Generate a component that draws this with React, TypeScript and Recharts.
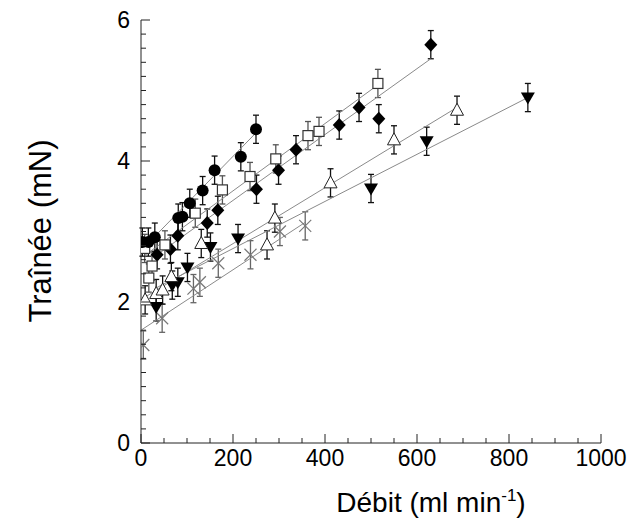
import React from 'react';
import { ComposedChart, XAxis, YAxis, Scatter, ErrorBar } from 'recharts';

// ---------- data ----------
const circleX = [3, 16, 30, 81, 90, 106, 134, 160, 217, 250];
const circleY = [2.85, 2.85, 2.92, 3.19, 3.21, 3.4, 3.58, 3.87, 4.06, 4.45];

const squareX = [8, 17, 24, 52, 118, 177, 237, 293, 363, 387, 515];
const squareY = [2.76, 2.34, 2.51, 2.81, 3.26, 3.59, 3.78, 4.03, 4.36, 4.42, 5.1];

const diamondX = [35, 64, 80, 144, 167, 251, 299, 337, 431, 474, 517, 630];
const diamondY = [2.67, 2.75, 2.94, 3.12, 3.3, 3.6, 3.87, 4.16, 4.51, 4.76, 4.6, 5.65];

const triUpX = [9, 33, 47, 66, 131, 274, 291, 412, 550, 687];
const triUpY = [2.03, 2.12, 2.17, 2.36, 2.83, 2.81, 3.19, 3.69, 4.3, 4.72];

const triDownX = [33, 68, 80, 101, 151, 211, 500, 621, 841];
const triDownY = [1.93, 2.24, 2.28, 2.49, 2.78, 2.9, 3.61, 4.28, 4.9];

const crossX = [5, 46, 114, 128, 168, 238, 302, 357];
const crossY = [1.39, 1.77, 2.19, 2.28, 2.55, 2.67, 3.0, 3.08];

const errBar = 0.2;

// fitted lines (end points)
const circleFitX = [3, 250];
const circleFitY = [2.75, 4.4];
const squareFitX = [8, 515];
const squareFitY = [2.66, 5.08];
const diamondFitX = [35, 630];
const diamondFitY = [2.67, 5.45];
const triUpFitX = [9, 687];
const triUpFitY = [2.07, 4.76];
const triDownFitX = [30, 841];
const triDownFitY = [2.19, 4.9];
const crossFitX = [0, 357];
const crossFitY = [1.6, 3.13];

const xTicks = [0, 50, 100, 150, 200, 250, 300, 350, 400, 450, 500, 550, 600, 650, 700, 750, 800, 850, 900, 950, 1000];
const xMajor = [0, 200, 400, 600, 800, 1000];
const yTicks = [0, 0.2, 0.4, 0.6, 0.8, 1, 1.2, 1.4, 1.6, 1.8, 2, 2.2, 2.4, 2.6, 2.8, 3, 3.2, 3.4, 3.6, 3.8, 4, 4.2, 4.4, 4.6, 4.8, 5, 5.2, 5.4, 5.6, 5.8, 6];
const yMajor = [0, 2, 4, 6];

const xTitle = 'Débit (ml min';
const xTitleSup = '-1';
const yTitle = 'Traînée (mN)';

// ---------- helpers ----------
const zip = (xs: number[], ys: number[]) => xs.map((x, i) => ({ x, y: ys[i], e: errBar }));
const isMajor = (v: number, list: number[]) => list.some((m) => Math.abs(m - v) < 1e-6);

const FONT = '"Liberation Sans", Arial, Helvetica, sans-serif';
const FRAME = '#222';

const BottomTick = (p: any) => {
  const major = isMajor(p.payload.value, xMajor);
  return (
    <g>
      <line x1={p.x} x2={p.x} y1={p.y} y2={p.y - (major ? 9 : 5)} stroke={FRAME} strokeWidth={1} />
      {major && (
        <text x={p.x} y={p.y + 23} textAnchor="middle" fontFamily={FONT} fontSize={23} fill="#000">
          {p.payload.value}
        </text>
      )}
    </g>
  );
};
const TopTick = (p: any) => {
  const major = isMajor(p.payload.value, xMajor);
  return <line x1={p.x} x2={p.x} y1={p.y} y2={p.y + (major ? 9 : 5)} stroke={FRAME} strokeWidth={1} />;
};
const LeftTick = (p: any) => {
  const major = isMajor(p.payload.value, yMajor);
  return (
    <g>
      <line x1={p.x} x2={p.x + (major ? 9 : 5)} y1={p.y} y2={p.y} stroke={FRAME} strokeWidth={1} />
      {major && (
        <text x={p.x - 11} y={p.y + 8} textAnchor="end" fontFamily={FONT} fontSize={23} fill="#000">
          {p.payload.value}
        </text>
      )}
    </g>
  );
};
const RightTick = (p: any) => {
  const major = isMajor(p.payload.value, yMajor);
  return <line x1={p.x} x2={p.x - (major ? 9 : 5)} y1={p.y} y2={p.y} stroke={FRAME} strokeWidth={1} />;
};

const CircleShape = (p: any) => <circle cx={p.cx} cy={p.cy} r={6} fill="#000" />;
const SquareShape = (p: any) => (
  <rect x={p.cx - 5} y={p.cy - 5} width={10} height={10} fill="#fff" stroke="#333" strokeWidth={1.2} />
);
const DiamondShape = (p: any) => (
  <polygon points={`${p.cx},${p.cy - 7} ${p.cx + 6.5},${p.cy} ${p.cx},${p.cy + 7} ${p.cx - 6.5},${p.cy}`} fill="#000" />
);
const TriUpShape = (p: any) => (
  <polygon points={`${p.cx},${p.cy - 7} ${p.cx + 6.5},${p.cy + 5} ${p.cx - 6.5},${p.cy + 5}`} fill="#fff" stroke="#222" strokeWidth={1} />
);
const TriDownShape = (p: any) => (
  <polygon points={`${p.cx - 7},${p.cy - 5} ${p.cx + 7},${p.cy - 5} ${p.cx},${p.cy + 7}`} fill="#000" />
);
const CrossShape = (p: any) => (
  <g stroke="#777" strokeWidth={1.2}>
    <line x1={p.cx - 6} y1={p.cy - 6} x2={p.cx + 6} y2={p.cy + 6} />
    <line x1={p.cx - 6} y1={p.cy + 6} x2={p.cx + 6} y2={p.cy - 6} />
  </g>
);
const NoShape = () => <g />;

const fits = [
  { id: 'fc', xs: circleFitX, ys: circleFitY },
  { id: 'fs', xs: squareFitX, ys: squareFitY },
  { id: 'fd', xs: diamondFitX, ys: diamondFitY },
  { id: 'fu', xs: triUpFitX, ys: triUpFitY },
  { id: 'fdn', xs: triDownFitX, ys: triDownFitY },
  { id: 'fx', xs: crossFitX, ys: crossFitY },
];

const series = [
  { id: 'cross', xs: crossX, ys: crossY, shape: CrossShape, err: '#666' },
  { id: 'tdown', xs: triDownX, ys: triDownY, shape: TriDownShape, err: '#111' },
  { id: 'tup', xs: triUpX, ys: triUpY, shape: TriUpShape, err: '#111' },
  { id: 'diamond', xs: diamondX, ys: diamondY, shape: DiamondShape, err: '#111' },
  { id: 'square', xs: squareX, ys: squareY, shape: SquareShape, err: '#555' },
  { id: 'circle', xs: circleX, ys: circleY, shape: CircleShape, err: '#111' },
];

export default function App() {
  return (
    <div style={{ position: 'absolute', left: 0, top: 0, width: 629, height: 522, background: '#fff' }}>
      <ComposedChart width={629} height={522} margin={{ top: 20, right: 28, bottom: 0, left: 0 }}>
        <XAxis
          xAxisId="b"
          type="number"
          dataKey="x"
          domain={[0, 1000]}
          ticks={xTicks}
          interval={0}
          allowDataOverflow
          tickSize={0}
          tickMargin={0}
          tickLine={false}
          height={79}
          axisLine={{ stroke: FRAME, strokeWidth: 1 }}
          tick={BottomTick}
        />
        <XAxis
          xAxisId="t"
          orientation="top"
          type="number"
          dataKey="x"
          domain={[0, 1000]}
          ticks={xTicks}
          interval={0}
          allowDataOverflow
          tickSize={0}
          tickMargin={0}
          tickLine={false}
          height={0}
          axisLine={{ stroke: FRAME, strokeWidth: 1 }}
          tick={TopTick}
        />
        <YAxis
          yAxisId="l"
          type="number"
          dataKey="y"
          domain={[0, 6]}
          ticks={yTicks}
          interval={0}
          allowDataOverflow
          tickSize={0}
          tickMargin={0}
          tickLine={false}
          width={141}
          axisLine={{ stroke: FRAME, strokeWidth: 1 }}
          tick={LeftTick}
        />
        <YAxis
          yAxisId="r"
          orientation="right"
          type="number"
          dataKey="y"
          domain={[0, 6]}
          ticks={yTicks}
          interval={0}
          allowDataOverflow
          tickSize={0}
          tickMargin={0}
          tickLine={false}
          width={0}
          axisLine={{ stroke: FRAME, strokeWidth: 1 }}
          tick={RightTick}
        />
        <Scatter xAxisId="t" yAxisId="r" data={[{ x: 0, y: 0 }]} shape={NoShape} isAnimationActive={false} />
        {fits.map((f) => (
          <Scatter
            key={f.id}
            xAxisId="b"
            yAxisId="l"
            data={f.xs.map((x, i) => ({ x, y: f.ys[i] }))}
            line={{ stroke: '#8a8a8a', strokeWidth: 1 }}
            shape={NoShape}
            isAnimationActive={false}
          />
        ))}
        {series.map((s) => (
          <Scatter
            key={s.id}
            xAxisId="b"
            yAxisId="l"
            data={zip(s.xs, s.ys)}
            shape={s.shape}
            isAnimationActive={false}
          >
            <ErrorBar dataKey="e" direction="y" width={3} stroke={s.err} strokeWidth={1.3} isAnimationActive={false} />
          </Scatter>
        ))}
      </ComposedChart>
      <svg width={629} height={522} style={{ position: 'absolute', left: 0, top: 0, pointerEvents: 'none' }}>
        <text x={431} y={512} textAnchor="middle" fontFamily={FONT} fontSize={28} fill="#000">
          {xTitle}
          <tspan dy={-11} fontSize={17}>{xTitleSup}</tspan>
          <tspan dy={11}>)</tspan>
        </text>
        <text
          transform="translate(51,231) rotate(-90)"
          textAnchor="middle"
          fontFamily={FONT}
          fontSize={31}
          fill="#000"
        >
          {yTitle}
        </text>
      </svg>
    </div>
  );
}
